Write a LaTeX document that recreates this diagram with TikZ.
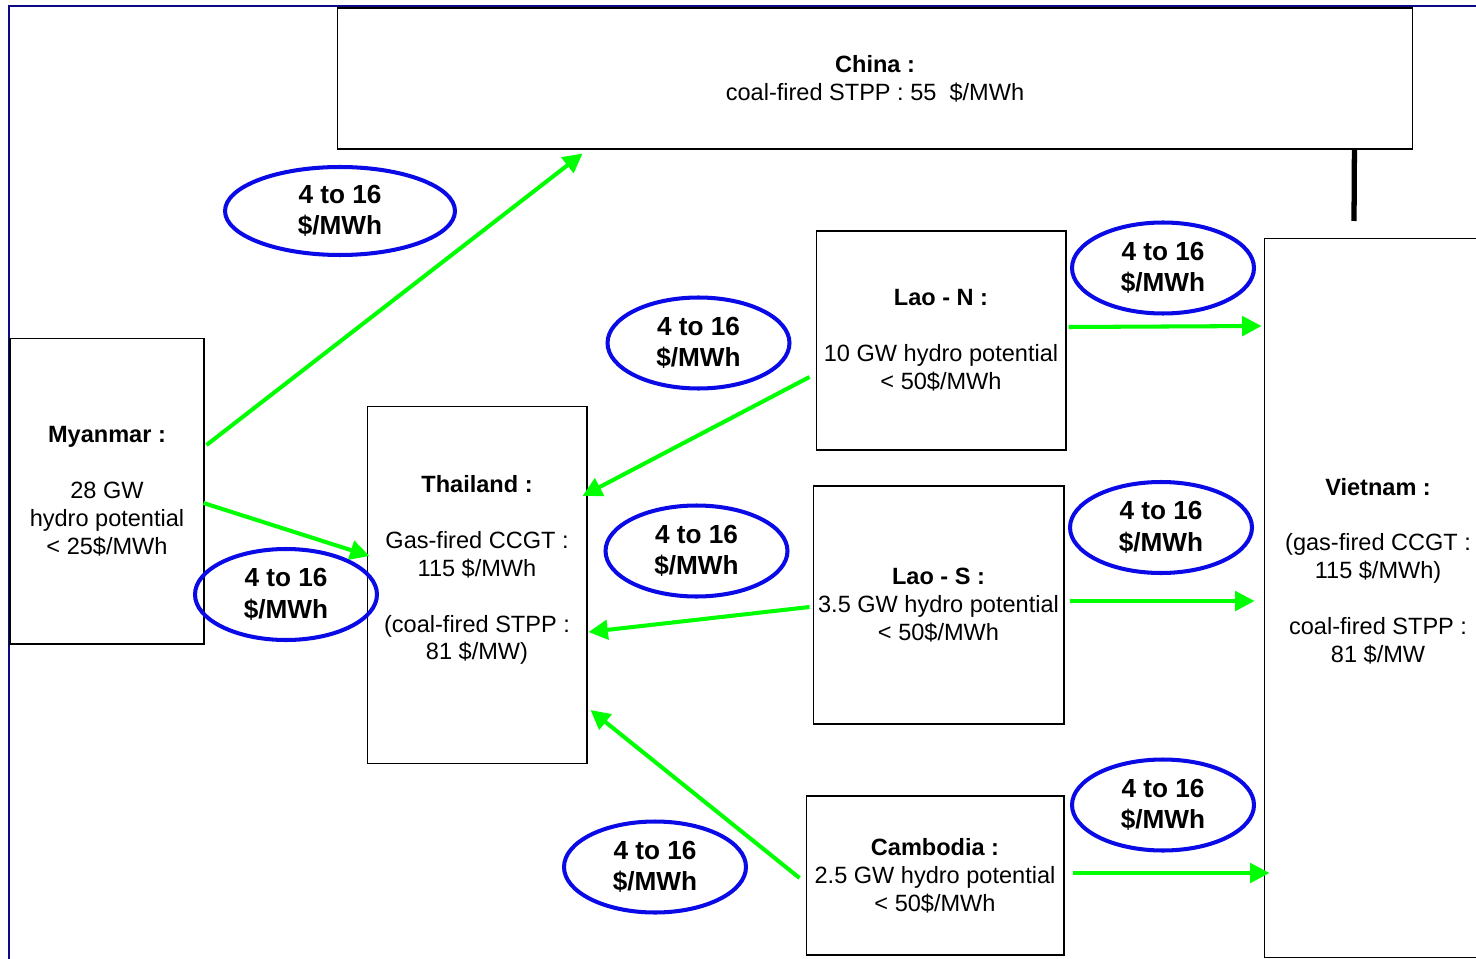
\documentclass[tikz,border=0pt]{standalone}
\usepackage{fontspec}
\setmainfont{Liberation Sans}
\usetikzlibrary{shapes.geometric,arrows.meta}
\definecolor{flowgreen}{RGB}{0,255,0}
\definecolor{framenavy}{RGB}{10,10,130}
\definecolor{feeblue}{RGB}{10,10,230}

\begin{document}
\begin{tikzpicture}[%
      x=0.02cm, y=-0.02cm,
      box/.style={draw, line width=0.6pt, inner sep=0pt},
      txt/.style={align=center, inner sep=0pt, font=\fontsize{13.4}{15.9}\selectfont},
      fee/.style={ellipse, draw=feeblue, line width=2.3pt, align=center, inner sep=0pt,
        minimum width=3.64cm, minimum height=1.82cm,
        font=\bfseries\fontsize{14.9}{18}\selectfont},
      flow/.style={draw=flowgreen, line width=2.3pt, -{Triangle[length=11pt,width=11pt]}},
      ]
      \useasboundingbox (0,0) rectangle (1476,959);
      \clip (0,0) rectangle (1476,959);
      \draw [color=framenavy, line width=1.2pt] (9,962) -- (9,6) -- (1480,6);

      \node [box, minimum width=21.52cm, minimum height=2.82cm] (chn) at (875,78.5) {};
      \node [box, minimum width=3.88cm, minimum height=6.12cm] (mya) at (107,491) {};
      \node [box, minimum width=4.4cm, minimum height=7.16cm] (tha) at (477,585) {};
      \node [box, minimum width=5.0cm, minimum height=4.38cm] (laon) at (941,340.5) {};
      \node [box, minimum width=5.02cm, minimum height=4.76cm] (laos) at (938.5,605) {};
      \node [box, minimum width=5.16cm, minimum height=3.18cm] (cam) at (935,875.5) {};
      \node [box, minimum width=4.52cm, minimum height=14.4cm] (vie) at (1377,598) {};

      \node [txt] (chn-t) at (chn) {\textbf{China :}\\ coal-fired STPP : 55 \ \$/MWh};
      \node [txt] (mya-t) at (mya) {\textbf{Myanmar :}\\[15.9pt] 28 GW\\ hydro potential\\ < 25\$/MWh};
      \node [txt] (tha-t) at ([yshift=8.5pt]tha) {\textbf{Thailand :}\\[15.9pt] Gas-fired CCGT :\\ 115 \$/MWh\\[15.9pt] (coal-fired STPP :\\ 81 \$/MW)};
      \node [txt] (laon-t) at (laon) {\textbf{Lao - N :}\\[15.9pt] 10 GW hydro potential\\ < 50\$/MWh};
      \node [txt] (laos-t) at (laos) {\textbf{Lao - S :}\\ 3.5 GW hydro potential\\ < 50\$/MWh};
      \node [txt] (cam-t) at (cam) {\textbf{Cambodia :}\\ 2.5 GW hydro potential\\ < 50\$/MWh};
      \node [txt] (vie-t) at ([xshift=0.6pt,yshift=15.3pt]vie) {\textbf{Vietnam :}\\[15.9pt] (gas-fired CCGT :\\ 115 \$/MWh)\\[15.9pt] coal-fired STPP :\\ 81 \$/MW};

      \coordinate (tie) at (1354,221);
      \draw [line width=3pt] ([shift={(-59,0)}]chn.south east) -- (tie);

      \draw [flow] ([shift={(2,-46)}]mya.east) -- ([shift={(246,4)}]chn.south west);
      \draw [flow] ([shift={(-1,12)}]mya.east) -- ([shift={(3,-29)}]tha.west);
      \draw [flow] ([shift={(-6,36.5)}]laon.west) -- ([shift={(-5,-89)}]tha.east);
      \draw [flow] ([shift={(-3,2)}]laos.west) -- ([shift={(1,47)}]tha.east);
      \draw [flow] ([shift={(-6,2.5)}]cam.west) -- ([shift={(3,125)}]tha.east);
      \draw [flow] ([shift={(2,-13.5)}]laon.east) -- ([shift={(-2,-272)}]vie.west);
      \draw [flow] ([shift={(5,-4)}]laos.east) -- ([shift={(-9,3)}]vie.west);
      \draw [flow] ([shift={(8,-2.5)}]cam.east) -- ([shift={(6,275)}]vie.west);

      \node [fee, minimum width=4.6cm, minimum height=1.76cm] (fee-chn) at (340,211) {4 to 16\\ \$/MWh};
      \node [fee] (fee-mya) at (286,594.5) {4 to 16\\ \$/MWh};
      \node [fee] (fee-laon) at (698.5,343) {4 to 16\\ \$/MWh};
      \node [fee] (fee-laos) at (696.5,551) {4 to 16\\ \$/MWh};
      \node [fee] (fee-cam) at (655,867) {4 to 16\\ \$/MWh};
      \node [fee] (fee-vn1) at (1163,268) {4 to 16\\ \$/MWh};
      \node [fee] (fee-vn2) at (1161,527.5) {4 to 16\\ \$/MWh};
      \node [fee] (fee-vn3) at (1163,805) {4 to 16\\ \$/MWh};
\end{tikzpicture}
\end{document}
